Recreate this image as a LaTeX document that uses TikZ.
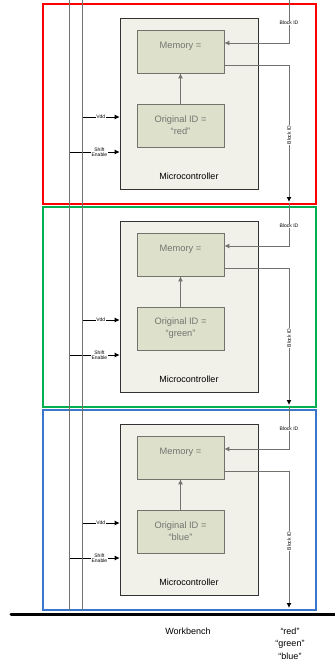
\documentclass[tikz,border=0pt]{standalone}
\usepackage{fontspec}
\setmainfont{Liberation Sans}
\usetikzlibrary{arrows.meta,positioning}
\definecolor{frameRed}{RGB}{255,0,0}
\definecolor{frameGreen}{RGB}{0,176,80}
\definecolor{frameBlue}{RGB}{58,118,204}
\definecolor{mcFill}{RGB}{241,241,233}
\definecolor{blockFill}{RGB}{221,225,204}
\definecolor{wireGrey}{RGB}{115,115,110}
\tikzset{
  framebox/.style={line width=1.6pt, minimum width=273pt, minimum height=200pt, inner sep=0pt},
  mcbox/.style={draw=black!80, fill=mcFill, line width=0.7pt, minimum width=138pt, minimum height=171pt, inner sep=0pt},
  blockbox/.style={draw=wireGrey, fill=blockFill, text=wireGrey, line width=0.7pt,
    minimum width=87pt, minimum height=43pt, inner sep=0pt, align=center, font=\fontsize{9.3}{12}\selectfont},
  rail/.style={draw=wireGrey, line width=1pt},
  wire/.style={draw=wireGrey, line width=1pt},
  feed/.style={draw=black, line width=0.7pt},
  tip/.style={-{Latex[length=5pt,width=5pt]}},
  blacktip/.style={-{Latex[length=5pt,width=5pt,black]}},
  tinylabel/.style={font=\fontsize{5}{5.5}\selectfont, fill=white, inner sep=0.4pt, align=center},
  mainlabel/.style={font=\fontsize{9}{12.5}\selectfont, align=center, inner sep=0pt},
}
\begin{document}
\begin{tikzpicture}[x=1pt,y=-1pt]
  \useasboundingbox (0,0) rectangle (335,665);

  % one frame per colour, stacked
  \foreach \frame/\colour/\off in {red/frameRed/0, green/frameGreen/203, blue/frameBlue/406} {
    \begin{scope}[yshift=-\off pt]
      \node [framebox, draw=\colour] (frame-\frame) at (179.5,104) {};
      \node [mcbox] (mc-\frame) at (189,103.5) {};
      \node [mainlabel, above=10pt] at (mc-\frame.south) {Microcontroller};
      \node [blockbox] (mem-\frame) at (180.5,51.5) {Memory =\\\mbox{}};
      \node [blockbox] (oid-\frame) at (180.5,125.5) {Original ID =\\``\frame''};
      \draw [wire,tip] (oid-\frame) -- (mem-\frame);

      % coordinates to be reused
      \coordinate (vdd-\frame) at (82,117);
      \coordinate (shift-\frame) at (69,152);
      \coordinate (bid-top-\frame) at (289,0);
      \coordinate (bid-in-\frame) at (289,43);
      \coordinate (bid-out-\frame) at (289,65);
      \coordinate (bid-end-\frame) at (289,202);

      % inputs on the left
      \draw [feed,tip] (vdd-\frame) -- (mc-\frame.west |- vdd-\frame)
        node [tinylabel, pos=0.5] {Vdd};
      \draw [feed,tip] (shift-\frame) -- (mc-\frame.west |- shift-\frame)
        node [tinylabel, pos=0.6] {Shift\\Enable};

      % block id in and out
      \draw [wire,tip] (bid-top-\frame) -- (bid-in-\frame) -- (mem-\frame.east |- bid-in-\frame);
      \node [tinylabel] at (289,23) {Block ID};
      \draw [wire,blacktip] (mem-\frame.east |- bid-out-\frame) -- (bid-out-\frame) -- (bid-end-\frame);
      \node [tinylabel, rotate=90] at (289,135) {Block ID};
    \end{scope}
  }

  % rails
  \coordinate (railA-top) at (69,0);
  \coordinate (railA-end) at (69,610);
  \coordinate (railB-top) at (82,0);
  \coordinate (railB-end) at (82,610);
  \draw [rail] (railA-top) -- (railA-end);
  \draw [rail] (railB-top) -- (railB-end);

  % workbench
  \coordinate (bench-west) at (11,614);
  \coordinate (bench-east) at (337,614);
  \draw [line width=3pt, line cap=round] (bench-west) -- (bench-east);
  \node [mainlabel] (bench) at (188,631) {Workbench};
  \node [mainlabel] (ids) at (290,643.5) {``red''\\``green''\\``blue''};
\end{tikzpicture}
\end{document}
